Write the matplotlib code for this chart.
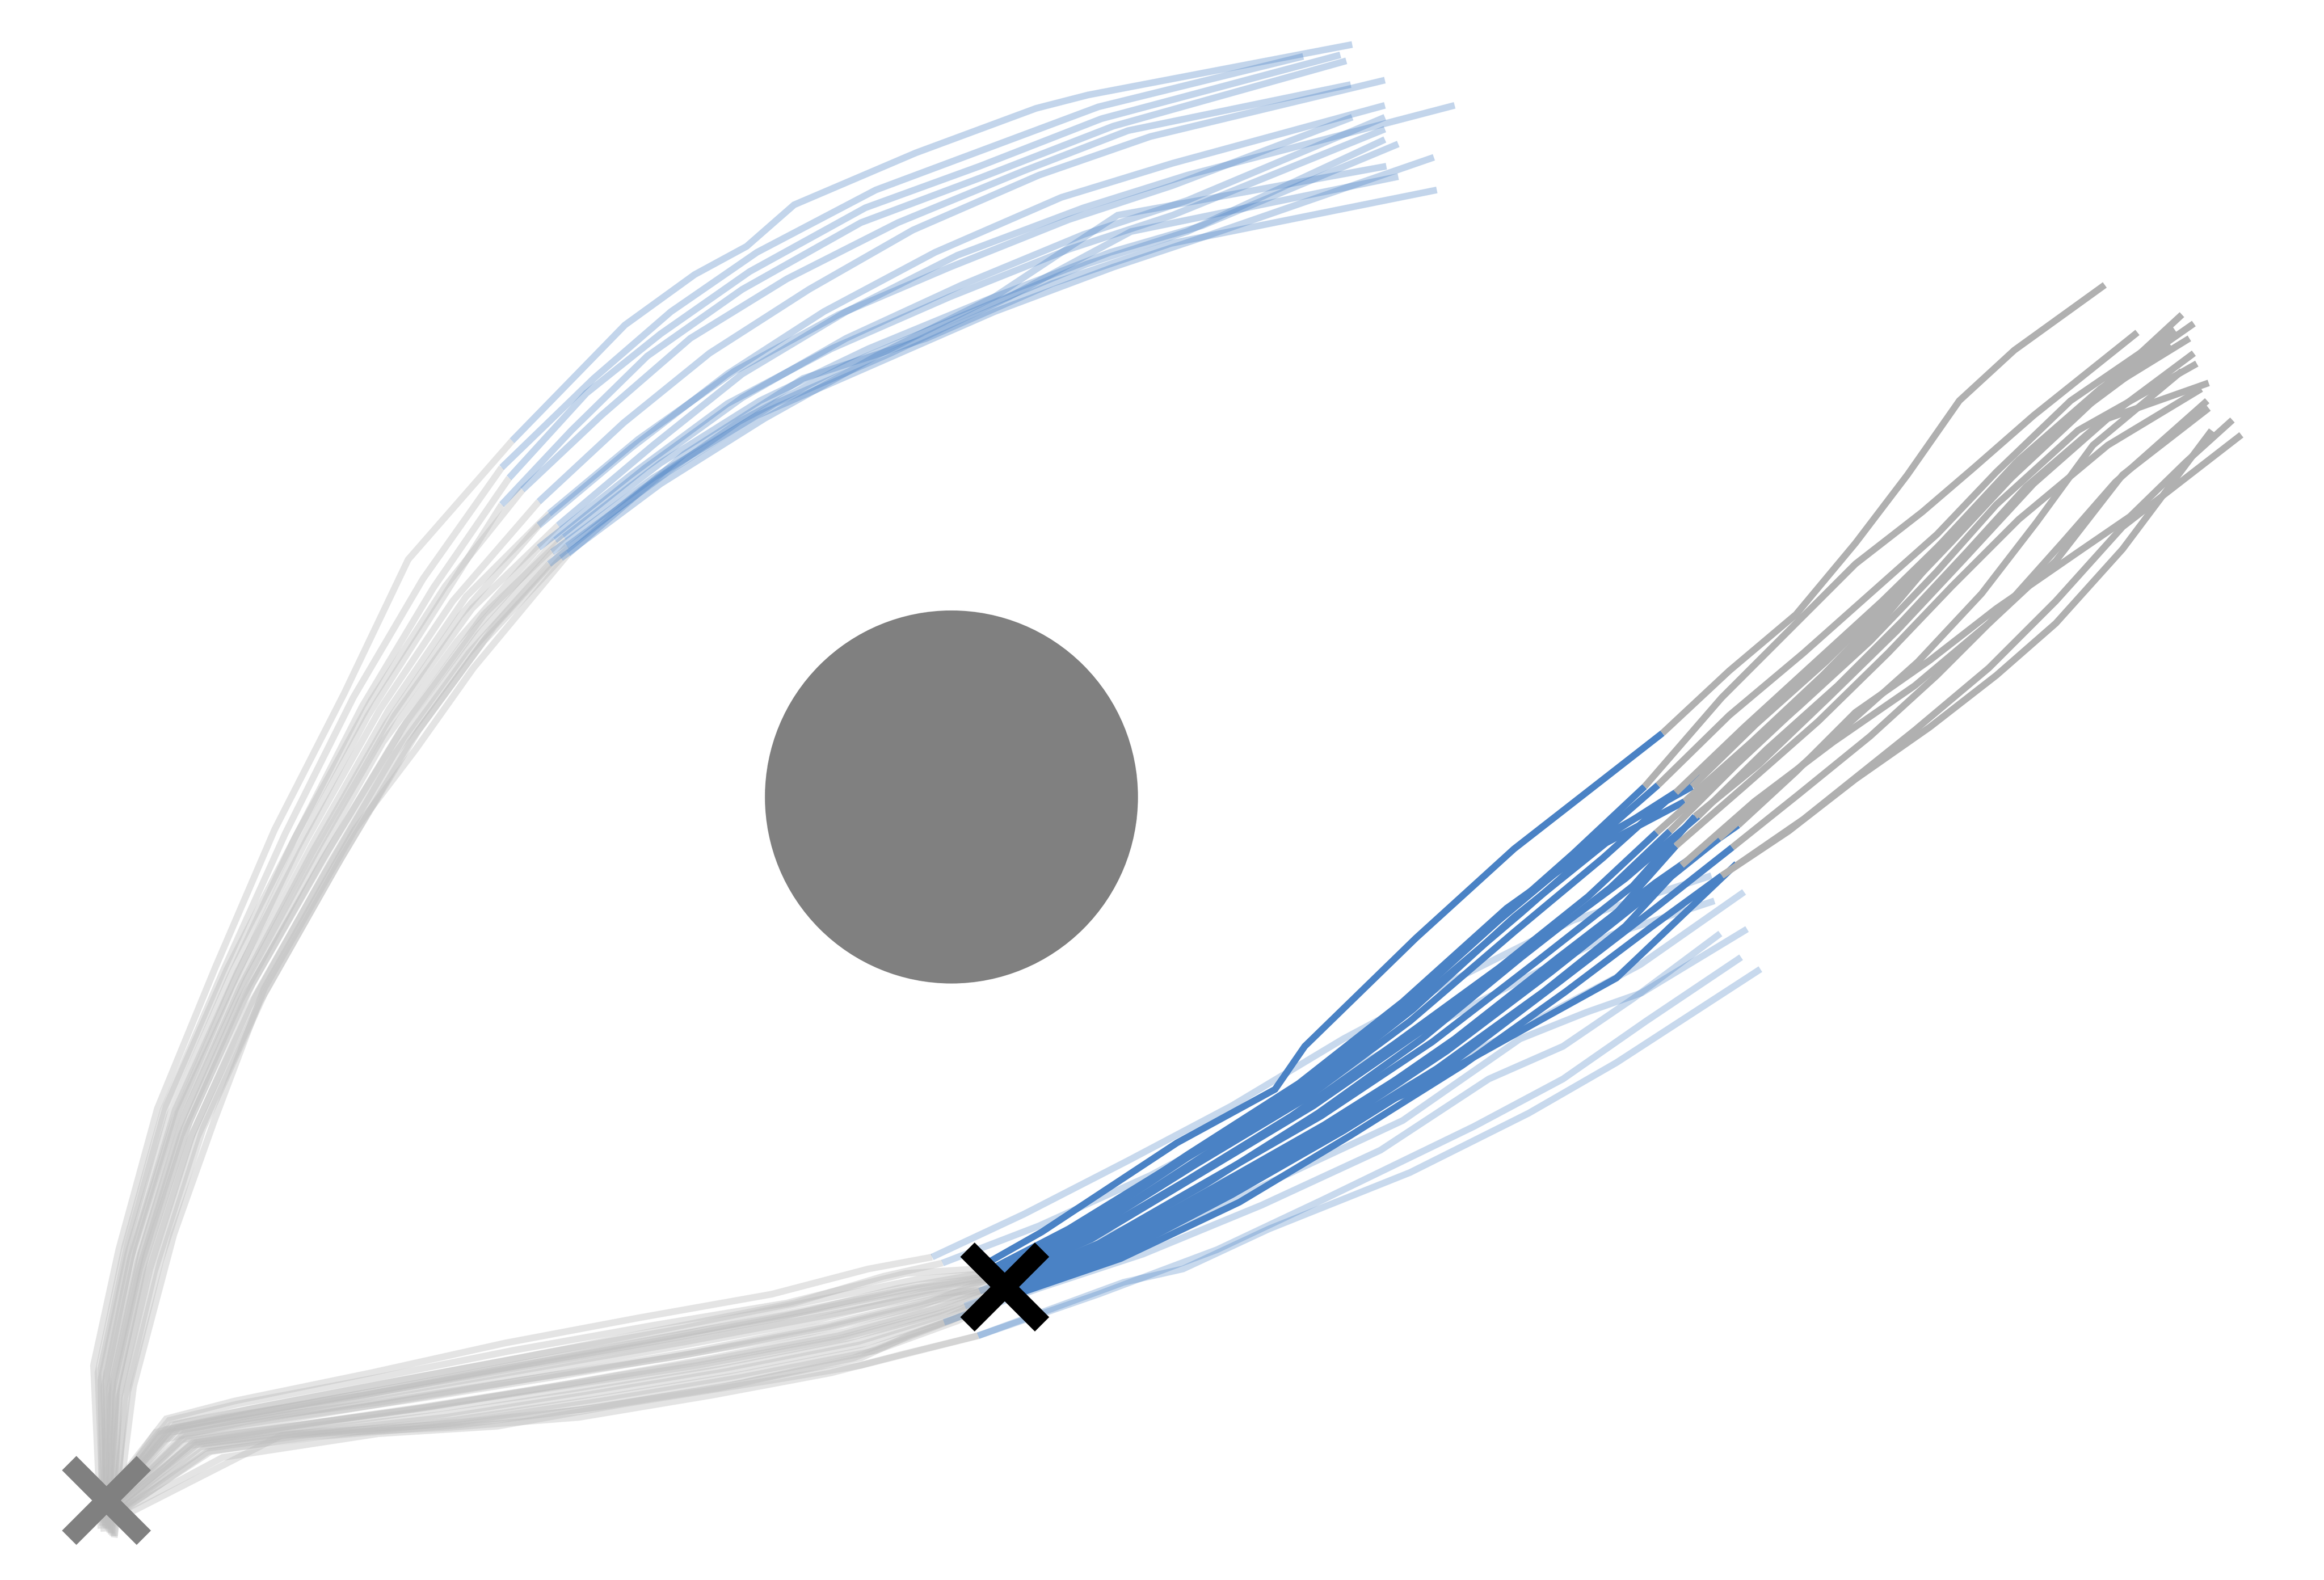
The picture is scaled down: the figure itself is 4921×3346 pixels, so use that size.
import matplotlib
matplotlib.use("Agg")
import matplotlib.pyplot as plt
from matplotlib.patches import Circle

# ---------------- data (positions in scene units, y grows downward) ----------------
start_point = (71.5, 1010.7)
waypoint = (676.6, 867.0)
obstacle_center = (641.0, 537.0)
obstacle_radius = 125.0

# upper bundle: past (light gray) part
upper_past = [
    [(68,1030),(63,920),(80,842),(106,747),(145,652),(185,559),(232,467),(275,377),(345,297)],
    [(70,1032),(66,925),(84,840),(110,748),(150,655),(192,562),(238,470),(285,390),(338,315)],
    [(71,1028),(68,930),(86,845),(114,752),(154,660),(198,566),(244,476),(292,396),(343,322)],
    [(72,1030),(70,935),(88,848),(117,756),(156,665),(200,572),(248,482),(295,408),(338,340)],
    [(70,1026),(72,925),(90,840),(118,748),(160,655),(207,565),(256,478),(305,405),(363,338)],
    [(69,1028),(68,922),(86,838),(112,745),(153,653),(200,562),(250,472),(300,395),(352,330)],
    [(73,1030),(74,935),(93,850),(121,758),(162,665),(210,575),(260,488),(310,415),(363,354)],
    [(74,1032),(76,930),(95,845),(124,752),(166,660),(215,570),(266,482),(318,410),(376,354)],
    [(71,1029),(73,928),(92,842),(120,750),(163,658),(212,566),(262,478),(314,402),(370,346)],
    [(75,1034),(78,938),(97,852),(126,760),(167,668),(218,578),(270,492),(322,422),(374,364)],
    [(73,1031),(75,940),(94,855),(122,765),(162,674),(210,585),(258,500),(308,432),(363,369)],
    [(76,1035),(80,942),(99,858),(128,768),(168,678),(218,590),(266,508),(316,440),(370,380)],
    [(72,1030),(79,932),(98,847),(128,755),(170,663),(222,572),(274,486),(326,414),(380,362)],
    [(74,1033),(81,940),(101,855),(130,763),(172,672),(222,582),(272,497),(322,428),(372,372)],
    [(77,1035),(84,942),(104,857),(133,766),(175,675),(226,585),(276,500),(326,432),(378,376)],
    [(75,1033),(86,938),(108,850),(137,760),(178,670),(230,578),(282,492),(333,422),(382,368)],
    [(77,1036),(90,934),(117,832),(144,756),(178,666),(239,559),(280,505),(319,450),(383,373)],
]

# upper bundle: predicted (faint blue) part
upper_future = [
    [(345,297),(421,219),(468,185),(503,166),(535,138),(617,103),(698,73),(733,64),(911,30)],
    [(338,315),(400,255),(452,210),(510,170),(590,128),(665,100),(740,72),(878,38)],
    [(343,322),(395,265),(445,225),(505,183),(583,140),(660,112),(742,80),(903,37)],
    [(338,340),(385,290),(436,240),(500,195),(580,150),(660,120),(750,85),(907,41)],
    [(363,338),(420,285),(478,238),(545,195),(615,155),(700,118),(775,92),(933,54)],
    [(352,330),(405,280),(465,228),(530,188),(605,150),(690,115),(760,88),(910,57)],
    [(363,354),(425,302),(490,252),(555,210),(630,170),(715,133),(790,110),(933,71)],
    [(376,354),(440,300),(500,252),(570,210),(645,172),(730,140),(800,118),(980,71)],
    [(370,346),(430,296),(495,250),(565,212),(640,180),(720,148),(790,125),(911,79)],
    [(374,364),(435,315),(500,268),(570,228),(648,192),(730,158),(800,135),(933,79)],
    [(363,369),(425,320),(490,272),(560,235),(640,200),(720,168),(790,145),(933,87)],
    [(370,380),(432,330),(498,284),(570,246),(650,212),(732,178),(800,156),(933,94)],
    [(380,362),(445,312),(512,270),(585,235),(665,202),(748,170),(810,152),(942,97)],
    [(372,372),(440,322),(510,280),(590,245),(670,210),(750,180),(810,160),(966,106)],
    [(378,376),(445,326),(515,282),(590,240),(670,200),(753,145),(934,112)],
    [(382,368),(450,318),(522,272),(600,238),(680,200),(762,156),(942,119)],
    [(383,373),(461,306),(541,255),(624,228),(709,191),(789,164),(968,128)],
]

# lower bundle: past (light gray) part, start -> waypoint
lower_past = [
    [(70,1010),(114,957),(160,946),(255,928),(345,910),(440,893),(530,878),(610,858),(658,855)],
    [(72,1012),(105,965),(150,955),(245,940),(340,922),(435,905),(525,888),(605,868),(662,858)],
    [(74,1014),(120,962),(170,952),(265,935),(360,918),(455,900),(545,882),(615,868),(665,860)],
    [(71,1015),(110,970),(165,958),(262,942),(358,925),(452,908),(548,890),(620,872),(668,862)],
    [(73,1012),(118,960),(175,948),(270,930),(365,912),(460,895),(550,876),(618,862),(664,858)],
    [(75,1016),(125,968),(185,958),(280,942),(375,926),(470,910),(560,892),(625,876),(670,864)],
    [(72,1013),(108,966),(160,957),(255,945),(350,930),(450,915),(545,898),(620,880),(666,862)],
    [(76,1018),(130,972),(190,962),(290,948),(385,932),(480,915),(570,897),(630,880),(672,866)],
    [(74,1016),(122,970),(180,963),(275,950),(372,935),(470,920),(565,902),(632,884),(674,868)],
    [(77,1020),(135,975),(200,966),(300,955),(395,940),(490,924),(580,906),(638,888),(676,870)],
    [(73,1014),(116,965),(172,955),(268,938),(365,921),(462,904),(558,886),(628,872),(678,868)],
    [(78,1021),(140,978),(210,968),(310,958),(405,944),(500,928),(590,910),(645,890),(680,872)],
    [(75,1018),(128,974),(195,966),(295,960),(390,950),(485,935),(575,915),(640,890),(691,867)],
    [(74,1017),(126,971),(188,962),(285,948),(380,933),(475,917),(565,900),(630,882),(673,867)],
    [(72,1014),(114,964),(168,954),(262,937),(358,920),(455,903),(550,885),(622,870),(667,861)],
    [(76,1019),(133,973),(198,965),(298,953),(392,938),(488,922),(578,904),(636,886),(677,871)],
    [(73,1013),(112,963),(166,953),(260,936),(355,918),(452,900),(547,883),(620,868),(668,861)],
    [(77,1020),(138,976),(205,967),(305,957),(400,943),(495,927),(585,909),(642,889),(682,873)],
]

# lower bundle: past part of the alternative (faint) predictions
lower_alt_past = [
    [(70,1010),(112,956),(158,944),(250,925),(340,905),(430,888),(520,872),(585,855),(628,847)],
    [(71,1011),(115,960),(165,950),(258,932),(350,915),(445,896),(535,878),(595,860),(635,851)],
    [(74,1015),(124,966),(182,957),(278,943),(372,928),(466,912),(558,894),(622,878),(660,870)],
    [(76,1017),(132,972),(195,963),(290,950),(385,936),(480,920),(570,902),(615,890),(650,880)],
    [(78,1020),(142,978),(215,968),(310,960),(405,948),(500,932),(580,915),(612,900),(636,891)],
    [(77,1021),(150,982),(255,966),(335,961),(420,946),(520,930),(580,920),(659,900)],
    [(80,1023),(190,967),(300,962),(390,955),(480,940),(560,925),(610,912),(659,900)],
]

# lower bundle: executed segment (solid blue)
lower_active = [
    [(658,855),(702,830),(793,770),(859,734),(879,705),(954,632),(1020,572),(1120,494)],
    [(662,858),(720,828),(790,785),(860,745),(930,690),(1000,628),(1060,575),(1108,530)],
    [(665,860),(725,830),(800,780),(870,738),(940,683),(1010,620),(1070,570),(1117,529)],
    [(668,862),(730,832),(805,785),(880,740),(950,688),(1020,628),(1080,578),(1129,534)],
    [(664,858),(728,826),(800,778),(875,730),(945,675),(1015,612),(1085,562),(1146,523)],
    [(670,864),(735,835),(810,790),(885,745),(960,693),(1030,640),(1095,592),(1144,550)],
    [(666,862),(730,836),(800,795),(870,752),(940,703),(1010,652),(1070,604),(1116,561)],
    [(672,866),(740,838),(815,795),(890,752),(965,702),(1035,648),(1100,597),(1142,550)],
    [(674,868),(742,842),(818,800),(892,758),(965,712),(1035,660),(1090,614),(1129,570)],
    [(676,870),(745,846),(820,806),(895,765),(968,720),(1040,668),(1095,624),(1133,583)],
    [(678,868),(750,840),(828,796),(905,752),(980,700),(1050,645),(1115,595),(1171,556)],
    [(680,872),(752,846),(830,805),(905,762),(980,715),(1050,662),(1115,612),(1167,571)],
    [(691,867),(757,831),(856,786),(907,754),(954,734),(1042,685),(1089,659),(1170,582)],
    [(673,867),(738,840),(812,798),(888,750),(958,700),(1025,645),(1085,598),(1125,560)],
    [(667,861),(733,830),(808,782),(882,735),(952,680),(1020,618),(1082,568),(1135,540)],
    [(677,871),(748,843),(825,802),(900,758),(975,708),(1045,655),(1108,605),(1158,565)],
    [(668,861),(735,828),(812,778),(888,728),(958,672),(1025,615),(1090,558),(1140,530)],
    [(682,873),(755,848),(835,810),(910,765),(985,718),(1055,668),(1112,625),(1160,590)],
]

# lower bundle: remaining path (dark gray)
lower_rest = [
    [(1120,494),(1165,452),(1210,414),(1250,366),(1285,320),(1320,270),(1357,236),(1418,192)],
    [(1108,530),(1160,470),(1210,420),(1250,380),(1295,345),(1330,315),(1370,280),(1440,224)],
    [(1117,529),(1165,482),(1215,440),(1260,400),(1305,360),(1345,318),(1395,270),(1465,222)],
    [(1129,534),(1175,490),(1222,447),(1268,405),(1312,362),(1352,320),(1405,272),(1470,212)],
    [(1146,523),(1190,480),(1235,440),(1278,398),(1318,355),(1358,312),(1410,268),(1475,228)],
    [(1144,550),(1190,505),(1238,462),(1282,418),(1325,372),(1365,328),(1415,285),(1478,238)],
    [(1116,561),(1162,520),(1212,476),(1260,432),(1305,385),(1345,340),(1400,290),(1480,245)],
    [(1142,550),(1185,515),(1232,470),(1278,425),(1322,378),(1370,326),(1420,282),(1488,258)],
    [(1129,570),(1175,530),(1225,486),(1272,440),(1315,395),(1360,350),(1420,300),(1483,262)],
    [(1133,583),(1182,540),(1235,500),(1290,462),(1340,420),(1385,378),(1430,320),(1488,275)],
    [(1171,556),(1210,520),(1250,480),(1300,445),(1345,410),(1400,372),(1435,348),(1473,311),(1504,283)],
    [(1167,571),(1212,535),(1260,496),(1305,455),(1348,412),(1390,365),(1425,325),(1487,270)],
    [(1170,583),(1215,552),(1290,492),(1340,450),(1385,405),(1430,355),(1510,293)],
    [(1125,560),(1170,515),(1218,470),(1262,425),(1300,380),(1345,332),(1395,282),(1462,232)],
    [(1135,540),(1180,500),(1228,455),(1272,410),(1315,365),(1355,322),(1400,280),(1455,228)],
    [(1158,565),(1200,528),(1245,488),(1292,446),(1335,400),(1372,352),(1410,300),(1470,250)],
    [(1140,530),(1183,488),(1230,446),(1275,402),(1318,356),(1360,310),(1415,262),(1478,218)],
    [(1160,590),(1205,560),(1250,525),(1300,490),(1345,455),(1385,420),(1430,370),(1490,290)],
]

# lower bundle: alternative predictions (faint blue) from the waypoint area
lower_alt = [
    [(628,847),(690,818),(760,782),(830,745),(905,700),(980,660),(1060,620),(1153,590)],
    [(635,851),(700,826),(775,792),(850,752),(930,710),(1010,668),(1085,630),(1155,607)],
    [(660,870),(725,843),(800,808),(880,768),(955,728),(1030,690),(1105,650),(1175,601)],
    [(650,880),(720,855),(795,825),(870,790),(945,755),(1024,700),(1069,682),(1106,669),(1177,626)],
    [(636,891),(700,868),(770,845),(850,812),(930,775),(1003,727),(1053,705),(1100,673),(1159,629)],
    [(659,900),(740,872),(820,842),(892,808),(993,759),(1053,727),(1109,688),(1173,645)],
    [(659,900),(757,864),(797,855),(855,828),(950,790),(1030,750),(1089,716),(1186,653)],
]

# ---------------- styling ----------------
W, H, DPI = 4921, 3346, 300
SCALE = 3.143  # output pixels per scene unit
LIGHT_GRAY = "#bdbdbd"
DARK_GRAY = "#b0b0b0"
BLUE = "#4a82c5"
LW = 3.4

fig = plt.figure(figsize=(W / DPI, H / DPI), dpi=DPI)
ax = fig.add_axes([0, 0, 1, 1])
ax.set_xlim(0, W / SCALE)
ax.set_ylim(H / SCALE, 0)
ax.set_aspect("equal")
ax.axis("off")


def draw(paths, **kw):
    for p in paths:
        xs = [q[0] for q in p]
        ys = [q[1] for q in p]
        ax.plot(xs, ys, solid_capstyle="butt", solid_joinstyle="miter", **kw)


ax.add_patch(Circle(obstacle_center, obstacle_radius, color="#808080", zorder=1))

draw(upper_past, color=LIGHT_GRAY, alpha=0.4, lw=LW, zorder=2)
draw(lower_past, color=LIGHT_GRAY, alpha=0.4, lw=LW, zorder=2)
draw(lower_alt_past, color=LIGHT_GRAY, alpha=0.4, lw=LW, zorder=2)
draw(upper_future, color=BLUE, alpha=0.33, lw=LW, zorder=3)
draw(lower_alt, color=BLUE, alpha=0.3, lw=LW, zorder=3)
draw(lower_active, color=BLUE, alpha=1.0, lw=LW, zorder=4)
draw(lower_rest, color=DARK_GRAY, alpha=1.0, lw=LW, zorder=4)

ax.plot([start_point[0]], [start_point[1]], marker="x", ms=37.8, mew=10.3,
        color="#808080", linestyle="none", zorder=6)
ax.plot([waypoint[0]], [waypoint[1]], marker="x", ms=37.8, mew=10.3,
        color="black", linestyle="none", zorder=6)

fig.savefig("out.png", dpi=DPI, facecolor="white")
